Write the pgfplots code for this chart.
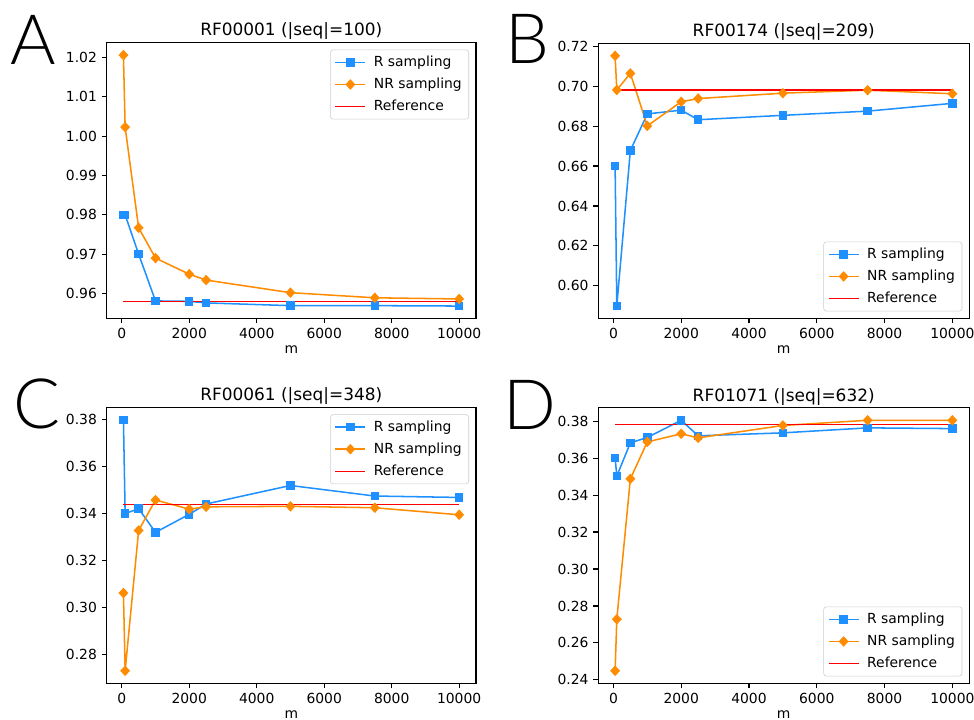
\documentclass[border=0pt]{standalone}
\usepackage{fontspec}
\setmainfont{DejaVu Sans}
\newfontfamily\panelfont{Lato Light}
\usepackage{pgfplots}
\pgfplotsset{compat=1.18}
\definecolor{rblue}{RGB}{30,144,255}
\definecolor{nrorange}{RGB}{255,140,0}
\definecolor{refred}{RGB}{255,0,0}
\pgfplotsset{
  panel/.style={
    scale only axis,
    xmin=-447.5, xmax=10497.5,
    xtick={0,2000,4000,6000,8000,10000},
    scaled x ticks=false, scaled y ticks=false,
    tick align=outside, tick pos=left,
    major tick length=3.5pt,
    every tick/.style={black, line width=0.8pt},
    axis line style={black, line width=0.8pt},
    /pgf/number format/assume math mode=true,
    tick label style={font=\fontsize{10}{12}\selectfont},
    xticklabel style={/pgf/number format/1000 sep={}},
    yticklabel style={/pgf/number format/.cd, fixed, fixed zerofill, precision=2},
    label style={font=\fontsize{10}{12}\selectfont},
    xlabel={m},
    xlabel style={at={(axis description cs:0.5,0)}, anchor=base, yshift=-25pt},
    legend cell align=left,
    legend style={font=\fontsize{10}{12}\selectfont, draw=black!20, rounded corners=2pt,
      fill=white, inner xsep=3pt, inner ysep=2.5pt,
      row sep=2.8pt,
      /tikz/every odd column/.append style={column sep=3.6pt}},
    legend image code/.code={\draw[mark repeat=2,mark phase=2,#1] plot coordinates {(0pt,0pt) (10.8pt,0pt) (21.6pt,0pt)};},
  },
  rline/.style={color=rblue, line width=1.1pt, mark=square*, mark size=2.5pt, mark options={solid, fill=rblue, draw=rblue}},
  nrline/.style={color=nrorange, line width=1.1pt, mark=diamond*, mark size=3pt, mark options={solid, fill=nrorange, draw=nrorange, xscale=1.25}},
  refline/.style={draw=refred, color=refred, line width=1.1pt, mark=none},
  legUR/.style={legend style={at={(1,1)}, anchor=north east, xshift=-5pt, yshift=-5pt}},
  legLR/.style={legend style={at={(1,0)}, anchor=south east, xshift=-5pt, yshift=5pt}},
}
\tikzset{ptitle/.style={anchor=base, inner sep=0pt, font=\fontsize{12.2}{14}\selectfont}}
\begin{document}
\begin{tikzpicture}
% ---------- A ----------
\begin{axis}[panel, legUR, name=A, at={(0pt,0pt)}, width=265.9pt, height=198.5pt,
  ymin=0.95368, ymax=1.02378, ytick={0.96,0.97,0.98,0.99,1.00,1.01,1.02}]
\addplot[rline] coordinates {(50,0.9800)(100,0.9800)(500,0.9700)(1000,0.9581)(2000,0.9580)(2500,0.9576)(5000,0.9569)(7500,0.9569)(10000,0.9568)};
\addplot[nrline] coordinates {(50,1.0206)(100,1.0023)(500,0.9767)(1000,0.9690)(2000,0.9649)(2500,0.9634)(5000,0.9602)(7500,0.9589)(10000,0.9586)};
\addplot[refline] coordinates {(50,0.9579)(10000,0.9579)};
\legend{R sampling, NR sampling, Reference}
\end{axis}
% ---------- B ----------
\begin{axis}[panel, legLR, name=B, at={(353.95pt,0pt)}, width=267.1pt, height=198pt,
  ymin=0.58374, ymax=0.72146, ytick={0.60,0.62,0.64,0.66,0.68,0.70,0.72}]
\addplot[rline] coordinates {(50,0.6600)(100,0.5900)(500,0.6678)(1000,0.6861)(2000,0.6880)(2500,0.6832)(5000,0.6854)(7500,0.6875)(10000,0.6914)};
\addplot[nrline] coordinates {(50,0.7152)(100,0.6981)(500,0.7064)(1000,0.6801)(2000,0.6922)(2500,0.6938)(5000,0.6965)(7500,0.6980)(10000,0.6962)};
\addplot[refline] coordinates {(50,0.6981)(10000,0.6981)};
\legend{R sampling, NR sampling, Reference}
\end{axis}
% ---------- C ----------
\begin{axis}[panel, legUR, name=C, at={(0pt,-262.8pt)}, width=265.9pt, height=198.7pt,
  ymin=0.26755, ymax=0.38536, ytick={0.28,0.30,0.32,0.34,0.36,0.38}]
\addplot[rline] coordinates {(50,0.3800)(100,0.3400)(500,0.3421)(1000,0.3320)(2000,0.3397)(2500,0.3441)(5000,0.3520)(7500,0.3475)(10000,0.3469)};
\addplot[nrline] coordinates {(50,0.3061)(100,0.2729)(500,0.3328)(1000,0.3458)(2000,0.3419)(2500,0.3429)(5000,0.3431)(7500,0.3425)(10000,0.3395)};
\addplot[refline] coordinates {(50,0.3439)(10000,0.3439)};
\legend{R sampling, NR sampling, Reference}
\end{axis}
% ---------- D ----------
\begin{axis}[panel, legLR, name=D, at={(353.95pt,-262.8pt)}, width=267.1pt, height=198.4pt,
  ymin=0.23812, ymax=0.38728, ytick={0.24,0.26,0.28,0.30,0.32,0.34,0.36,0.38}]
\addplot[rline] coordinates {(50,0.3602)(100,0.3503)(500,0.3683)(1000,0.3712)(2000,0.3805)(2500,0.3721)(5000,0.3737)(7500,0.3764)(10000,0.3760)};
\addplot[nrline] coordinates {(50,0.2449)(100,0.2728)(500,0.3488)(1000,0.3688)(2000,0.3732)(2500,0.3710)(5000,0.3777)(7500,0.3805)(10000,0.3805)};
\addplot[refline] coordinates {(50,0.3782)(10000,0.3782)};
\legend{R sampling, NR sampling, Reference}
\end{axis}
% titles
\node[ptitle] at ([yshift=4.8pt]A.north) {RF00001 (|seq|=100)};
\node[ptitle] at ([yshift=4.8pt]B.north) {RF00174 (|seq|=209)};
\node[ptitle] at ([yshift=4.8pt]C.north) {RF00061 (|seq|=348)};
\node[ptitle] at ([yshift=4.8pt]D.north) {RF01071 (|seq|=632)};
% panel letters
\node[anchor=base west, inner sep=0pt, font={\panelfont\fontsize{50}{50}\selectfont}] at (-69.6pt,182.4pt) {A};
\node[anchor=base west, inner sep=0pt, font={\panelfont\fontsize{50}{50}\selectfont}] at (286.8pt,183.8pt) {B};
\node[anchor=base west, inner sep=0pt, font={\panelfont\fontsize{50}{50}\selectfont}] at (-67.5pt,-79.0pt) {C};
\node[anchor=base west, inner sep=0pt, font={\panelfont\fontsize{50}{50}\selectfont}] at (285.3pt,-80.4pt) {D};
\pgfresetboundingbox
\path (-76.8pt,229.2pt) rectangle (624.5pt,-289.2pt);
\end{tikzpicture}
\end{document}
